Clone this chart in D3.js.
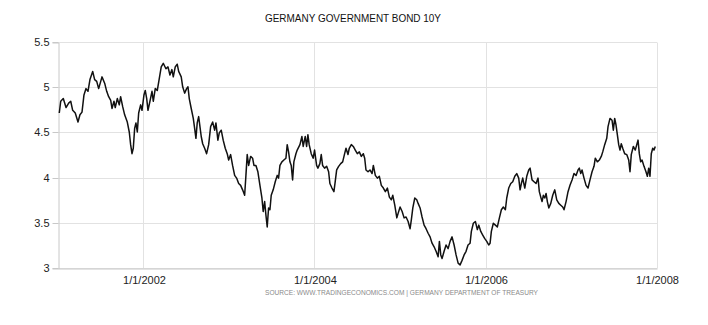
<!DOCTYPE html>
<html>
<head>
<meta charset="utf-8">
<script src="https://cdn.jsdelivr.net/npm/d3@7"></script>
<style>
  html, body { margin: 0; padding: 0; background: #fff; }
  svg { display: block; }
  text { font-family: "Liberation Sans", Arial, sans-serif; }
</style>
</head>
<body>
<svg id="chart" width="708" height="325"></svg>
<script>
// Germany 10-year government bond yield (%), sampled roughly every ten days.
// Dates are given as decimal years.
const dates = [
  2001.009, 2001.026, 2001.056, 2001.088, 2001.119, 2001.143, 2001.166, 2001.196, 2001.228, 2001.251,
  2001.275, 2001.298, 2001.322, 2001.345, 2001.368, 2001.400, 2001.423, 2001.447, 2001.470, 2001.494,
  2001.509, 2001.540, 2001.564, 2001.587, 2001.611, 2001.626, 2001.649, 2001.664, 2001.688, 2001.711,
  2001.727, 2001.751, 2001.774, 2001.805, 2001.828, 2001.844, 2001.860, 2001.875, 2001.891, 2001.906,
  2001.922, 2001.938, 2001.961, 2001.977, 2002.000, 2002.015, 2002.032, 2002.047, 2002.070, 2002.094,
  2002.109, 2002.132, 2002.156, 2002.179, 2002.202, 2002.226, 2002.257, 2002.281, 2002.304, 2002.327,
  2002.343, 2002.366, 2002.389, 2002.406, 2002.436, 2002.453, 2002.476, 2002.499, 2002.515, 2002.530,
  2002.553, 2002.577, 2002.593, 2002.608, 2002.623, 2002.640, 2002.655, 2002.670, 2002.687, 2002.710,
  2002.733, 2002.757, 2002.780, 2002.804, 2002.827, 2002.842, 2002.865, 2002.881, 2002.904, 2002.927,
  2002.951, 2002.974, 2002.991, 2003.014, 2003.037, 2003.061, 2003.084, 2003.108, 2003.131, 2003.154,
  2003.178, 2003.193, 2003.208, 2003.225, 2003.248, 2003.271, 2003.287, 2003.310, 2003.333, 2003.357,
  2003.380, 2003.395, 2003.412, 2003.427, 2003.442, 2003.458, 2003.474, 2003.489, 2003.512, 2003.536,
  2003.559, 2003.575, 2003.591, 2003.614, 2003.637, 2003.661, 2003.676, 2003.692, 2003.708, 2003.723,
  2003.739, 2003.754, 2003.778, 2003.793, 2003.825, 2003.848, 2003.863, 2003.887, 2003.903, 2003.918,
  2003.933, 2003.957, 2003.980, 2003.996, 2004.020, 2004.035, 2004.058, 2004.074, 2004.090, 2004.113,
  2004.137, 2004.160, 2004.175, 2004.199, 2004.222, 2004.237, 2004.254, 2004.277, 2004.301, 2004.324,
  2004.347, 2004.363, 2004.386, 2004.401, 2004.425, 2004.448, 2004.471, 2004.495, 2004.518, 2004.542,
  2004.565, 2004.581, 2004.596, 2004.620, 2004.643, 2004.667, 2004.682, 2004.705, 2004.729, 2004.752,
  2004.775, 2004.799, 2004.822, 2004.846, 2004.869, 2004.892, 2004.909, 2004.932, 2004.956, 2004.971,
  2004.994, 2005.018, 2005.041, 2005.064, 2005.088, 2005.111, 2005.126, 2005.143, 2005.166, 2005.189,
  2005.205, 2005.228, 2005.251, 2005.275, 2005.298, 2005.322, 2005.345, 2005.368, 2005.392, 2005.415,
  2005.439, 2005.454, 2005.470, 2005.485, 2005.509, 2005.532, 2005.556, 2005.579, 2005.602, 2005.626,
  2005.649, 2005.673, 2005.696, 2005.719, 2005.743, 2005.766, 2005.789, 2005.813, 2005.828, 2005.851,
  2005.875, 2005.898, 2005.915, 2005.938, 2005.961, 2005.985, 2006.008, 2006.031, 2006.047, 2006.062,
  2006.085, 2006.109, 2006.132, 2006.156, 2006.179, 2006.202, 2006.226, 2006.242, 2006.265, 2006.289,
  2006.312, 2006.336, 2006.359, 2006.382, 2006.398, 2006.413, 2006.429, 2006.453, 2006.476, 2006.499,
  2006.515, 2006.538, 2006.561, 2006.585, 2006.608, 2006.623, 2006.640, 2006.655, 2006.670, 2006.687,
  2006.702, 2006.717, 2006.734, 2006.757, 2006.780, 2006.804, 2006.827, 2006.851, 2006.874, 2006.897,
  2006.912, 2006.936, 2006.959, 2006.982, 2007.006, 2007.029, 2007.053, 2007.076, 2007.091, 2007.108,
  2007.123, 2007.146, 2007.170, 2007.193, 2007.216, 2007.240, 2007.263, 2007.278, 2007.302, 2007.325,
  2007.348, 2007.365, 2007.388, 2007.412, 2007.427, 2007.450, 2007.474, 2007.489, 2007.505, 2007.520,
  2007.536, 2007.552, 2007.567, 2007.582, 2007.599, 2007.622, 2007.646, 2007.669, 2007.684, 2007.699,
  2007.723, 2007.746, 2007.763, 2007.778, 2007.793, 2007.809, 2007.825, 2007.848, 2007.871, 2007.887,
  2007.903, 2007.918, 2007.933, 2007.950, 2007.965, 2007.980
];

const yields = [
  4.72, 4.85, 4.88, 4.78, 4.83, 4.85, 4.75, 4.72, 4.62, 4.70,
  4.73, 4.92, 4.99, 4.96, 5.09, 5.18, 5.09, 5.07, 4.99, 5.07,
  5.12, 5.05, 4.96, 4.90, 4.86, 4.77, 4.85, 4.78, 4.88, 4.81,
  4.90, 4.79, 4.70, 4.62, 4.51, 4.37, 4.27, 4.33, 4.55, 4.61,
  4.51, 4.72, 4.81, 4.75, 4.92, 4.97, 4.88, 4.75, 4.85, 4.96,
  4.85, 4.99, 4.97, 5.10, 5.23, 5.27, 5.21, 5.23, 5.14, 5.20,
  5.12, 5.23, 5.26, 5.18, 5.12, 5.01, 4.94, 4.99, 5.01, 4.88,
  4.77, 4.66, 4.55, 4.44, 4.61, 4.68, 4.57, 4.46, 4.38, 4.33,
  4.27, 4.37, 4.57, 4.62, 4.53, 4.61, 4.42, 4.50, 4.53, 4.42,
  4.33, 4.27, 4.20, 4.26, 4.14, 4.03, 4.00, 3.94, 3.92, 3.87,
  3.81, 4.03, 4.26, 4.14, 4.24, 4.22, 4.14, 4.14, 4.07, 3.92,
  3.78, 3.63, 3.74, 3.59, 3.46, 3.67, 3.65, 3.81, 3.87, 3.96,
  4.03, 4.00, 4.14, 4.18, 4.20, 4.22, 4.37, 4.29, 4.18, 4.14,
  3.98, 4.18, 4.27, 4.31, 4.37, 4.46, 4.35, 4.46, 4.35, 4.48,
  4.37, 4.27, 4.22, 4.31, 4.14, 4.11, 4.16, 4.26, 4.14, 4.11,
  4.13, 4.07, 3.94, 3.89, 3.85, 3.96, 4.09, 4.13, 4.16, 4.18,
  4.27, 4.33, 4.26, 4.33, 4.37, 4.35, 4.31, 4.27, 4.29, 4.24,
  4.27, 4.22, 4.09, 4.07, 4.09, 4.05, 4.14, 4.03, 4.00, 4.02,
  3.92, 3.89, 3.85, 3.89, 3.79, 3.76, 3.81, 3.70, 3.56, 3.61,
  3.68, 3.63, 3.56, 3.57, 3.52, 3.44, 3.54, 3.67, 3.78, 3.76,
  3.72, 3.67, 3.57, 3.48, 3.44, 3.39, 3.35, 3.28, 3.24, 3.19,
  3.13, 3.30, 3.15, 3.11, 3.19, 3.26, 3.22, 3.30, 3.35, 3.26,
  3.15, 3.06, 3.04, 3.09, 3.15, 3.19, 3.26, 3.28, 3.41, 3.50,
  3.52, 3.43, 3.48, 3.41, 3.37, 3.33, 3.30, 3.26, 3.28, 3.41,
  3.50, 3.48, 3.46, 3.56, 3.65, 3.68, 3.65, 3.78, 3.89, 3.94,
  3.96, 4.02, 4.05, 4.00, 3.87, 3.94, 4.00, 3.89, 4.02, 4.09,
  4.11, 3.98, 3.96, 3.94, 4.00, 3.85, 3.79, 3.74, 3.81, 3.78,
  3.83, 3.74, 3.67, 3.72, 3.81, 3.87, 3.76, 3.72, 3.70, 3.68,
  3.65, 3.74, 3.85, 3.92, 3.98, 4.05, 4.03, 4.09, 4.11, 4.05,
  4.09, 4.00, 3.92, 3.89, 3.98, 4.07, 4.13, 4.22, 4.18, 4.20,
  4.24, 4.29, 4.37, 4.44, 4.57, 4.66, 4.64, 4.53, 4.66, 4.59,
  4.48, 4.37, 4.31, 4.38, 4.33, 4.27, 4.26, 4.20, 4.07, 4.26,
  4.35, 4.31, 4.37, 4.42, 4.27, 4.18, 4.20, 4.13, 4.07, 4.02,
  4.11, 4.02, 4.27, 4.33, 4.31, 4.35
];

const yTicks = [3, 3.5, 4, 4.5, 5, 5.5];
const xTicks = ["2002-01-01", "2004-01-01", "2006-01-01", "2008-01-01"];
const xTickLabels = ["1/1/2002", "1/1/2004", "1/1/2006", "1/1/2008"];
const title = "GERMANY GOVERNMENT BOND 10Y";
const sourceNote = "SOURCE: WWW.TRADINGECONOMICS.COM | GERMANY DEPARTMENT OF TREASURY";

// decimal year -> Date
function yearToDate(v) {
  const yr = Math.floor(v);
  const a = Date.UTC(yr, 0, 1), b = Date.UTC(yr + 1, 0, 1);
  return new Date(a + (v - yr) * (b - a));
}

const series = dates.map((d, i) => ({ date: yearToDate(d), value: yields[i] }));

const svg = d3.select("#chart");
const plot = { left: 58.5, right: 657, top: 42.5, bottom: 268.5 };

const x = d3.scaleUtc()
  .domain([new Date(Date.UTC(2001, 0, 1)), new Date(Date.UTC(2008, 0, 1))])
  .range([plot.left, plot.right]);

const y = d3.scaleLinear()
  .domain([3, 5.5])
  .range([plot.bottom, plot.top]);

const snap = v => Math.round(v - 0.5) + 0.5;
const tickDates = xTicks.map(s => new Date(s + "T00:00:00Z"));

// horizontal grid
svg.append("g").selectAll("line").data(yTicks).join("line")
  .attr("x1", plot.left).attr("x2", plot.right)
  .attr("y1", d => snap(y(d))).attr("y2", d => snap(y(d)))
  .attr("stroke", "#e2e2e2").attr("stroke-width", 1);

// vertical grid
svg.append("g").selectAll("line").data(tickDates).join("line")
  .attr("x1", d => snap(x(d))).attr("x2", d => snap(x(d)))
  .attr("y1", plot.top).attr("y2", plot.bottom)
  .attr("stroke", "#e2e2e2").attr("stroke-width", 1);

// y axis
const yAxis = svg.append("g")
  .attr("transform", `translate(${plot.left},0)`)
  .call(d3.axisLeft(y).tickValues(yTicks).tickSize(6).tickPadding(3)
    .tickFormat(d => String(d)));
yAxis.select(".domain").attr("stroke", "#c8c8c8");
yAxis.selectAll(".tick line").attr("stroke", "#c8c8c8");
yAxis.selectAll(".tick").attr("transform", d => `translate(0,${snap(y(d))})`);
yAxis.selectAll(".tick text").attr("fill", "#222").attr("font-size", 11)
  .style("font-family", '"Liberation Sans", Arial, sans-serif');

// x axis
const xAxis = svg.append("g")
  .attr("transform", `translate(0,${plot.bottom})`)
  .call(d3.axisBottom(x).tickValues(tickDates).tickSize(0).tickPadding(8)
    .tickFormat((d, i) => xTickLabels[i]));
xAxis.select(".domain").attr("stroke", "#c8c8c8");
xAxis.selectAll(".tick text").attr("fill", "#222").attr("font-size", 11)
  .style("font-family", '"Liberation Sans", Arial, sans-serif');

// yield line
const line = d3.line()
  .x(d => x(d.date))
  .y(d => y(d.value));

svg.append("path")
  .datum(series)
  .attr("d", line)
  .attr("fill", "none")
  .attr("stroke", "#111")
  .attr("stroke-width", 1.5)
  .attr("stroke-linejoin", "round");

// title
svg.append("text")
  .attr("x", 353).attr("y", 22)
  .attr("text-anchor", "middle")
  .attr("font-size", 11)
  .attr("textLength", 176).attr("lengthAdjust", "spacingAndGlyphs")
  .attr("fill", "#111")
  .text(title);

// source note
svg.append("text")
  .attr("x", 265).attr("y", 295)
  .attr("font-size", 8)
  .attr("textLength", 273).attr("lengthAdjust", "spacingAndGlyphs")
  .attr("fill", "#8a8a8a")
  .text(sourceNote);
</script>
</body>
</html>
